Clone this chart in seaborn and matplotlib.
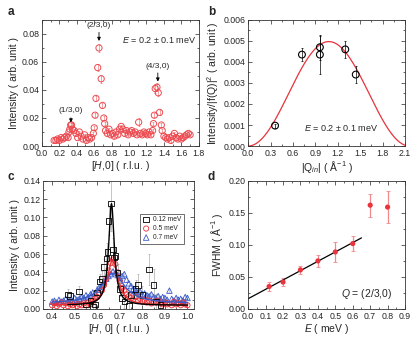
import numpy as np
import pandas as pd
import matplotlib
matplotlib.use('Agg')
import matplotlib.pyplot as plt
import seaborn as sns
from matplotlib.ticker import MultipleLocator

# ================= 数据区 =================
# (a) E = 0.2 meV 沿 [H,0] 扫描
a_h = [0.14, 0.16, 0.18, 0.20, 0.22, 0.24, 0.26, 0.28, 0.30, 0.31, 0.32, 0.33, 0.34, 0.35,
       0.37, 0.39, 0.41, 0.43, 0.45, 0.47, 0.49, 0.51, 0.53, 0.55, 0.57, 0.59, 0.60, 0.61,
       0.62, 0.64, 0.655, 0.68, 0.695, 0.71, 0.72, 0.73, 0.75, 0.77, 0.79, 0.81, 0.83, 0.85,
       0.87, 0.89, 0.91, 0.93, 0.95, 0.97, 0.99, 1.01, 1.03, 1.05, 1.07, 1.09, 1.11, 1.13,
       1.15, 1.17, 1.19, 1.21, 1.23, 1.25, 1.27, 1.28, 1.29, 1.30, 1.32, 1.335, 1.35, 1.37,
       1.38, 1.40, 1.42, 1.44, 1.46, 1.48, 1.50, 1.52, 1.54, 1.56, 1.58, 1.60, 1.62, 1.64,
       1.66, 1.68, 1.70]
a_int = [0.004, 0.004, 0.005, 0.004, 0.006, 0.005, 0.006, 0.007, 0.006, 0.010, 0.012, 0.015,
         0.015, 0.012, 0.011, 0.009, 0.006, 0.010, 0.007, 0.005, 0.008, 0.004, 0.006, 0.005,
         0.006, 0.009, 0.013, 0.022, 0.034, 0.056, 0.070, 0.048, 0.029, 0.020, 0.016, 0.011,
         0.009, 0.012, 0.008, 0.009, 0.007, 0.010, 0.008, 0.012, 0.014, 0.012, 0.009, 0.011,
         0.008, 0.010, 0.011, 0.009, 0.010, 0.008, 0.017, 0.009, 0.008, 0.010, 0.009, 0.008,
         0.010, 0.008, 0.011, 0.016, 0.022, 0.041, 0.042, 0.038, 0.024, 0.015, 0.011, 0.007,
         0.006, 0.005, 0.006, 0.004, 0.007, 0.009, 0.006, 0.005, 0.007, 0.005, 0.006, 0.007,
         0.008, 0.009, 0.008]
a_err = [0.0008, 0.0008, 0.0008, 0.0008, 0.0008, 0.0008, 0.0008, 0.0008, 0.0008, 0.001, 0.001, 0.0012,
         0.0012, 0.001, 0.001, 0.001, 0.0008, 0.001, 0.0008, 0.0008, 0.0008, 0.0008, 0.0008, 0.0008,
         0.0008, 0.001, 0.001, 0.0015, 0.002, 0.0025, 0.003, 0.003, 0.002, 0.0015, 0.0012, 0.001,
         0.001, 0.001, 0.001, 0.001, 0.001, 0.001, 0.001, 0.0012, 0.0012, 0.001, 0.001, 0.001,
         0.001, 0.001, 0.001, 0.001, 0.001, 0.001, 0.003, 0.001, 0.001, 0.001, 0.001, 0.001,
         0.001, 0.001, 0.001, 0.0012, 0.0015, 0.003, 0.003, 0.0025, 0.002, 0.0012, 0.001, 0.0008,
         0.0008, 0.0008, 0.0008, 0.0008, 0.0008, 0.0008, 0.0008, 0.0008, 0.0008, 0.0008, 0.0008, 0.0008,
         0.0008, 0.0008, 0.0008]

# (b) Intensity/|f(Q)|^2 vs |Q_in|
b_q = [0.36, 0.72, 0.96, 0.96, 1.30, 1.44]
b_int = [0.00097, 0.00435, 0.0047, 0.00435, 0.0046, 0.0034]
b_err = [0.0001, 0.0003, 0.0006, 0.0009, 0.0004, 0.0004]
b_fit_amp = 0.00497   # sin^2 拟合参数
b_fit_period = 2.16

# (c) 不同能量下的 [H,0] 扫描
c_black_h = [0.47, 0.48, 0.52, 0.55, 0.57, 0.58, 0.59, 0.60, 0.61, 0.62, 0.63, 0.64, 0.645,
             0.65, 0.66, 0.67, 0.675, 0.68, 0.69, 0.70, 0.71, 0.72, 0.74, 0.75, 0.77, 0.78,
             0.80, 0.83, 0.85, 0.86, 0.88]
c_black_int = [0.016, 0.014, 0.019, 0.005, 0.009, 0.002, 0.005, 0.018, 0.030, 0.033, 0.046,
               0.055, 0.062, 0.096, 0.115, 0.065, 0.056, 0.058, 0.040, 0.022, 0.012, 0.008,
               0.003, 0.015, 0.022, 0.026, 0.015, 0.043, 0.026, 0.008, 0.004]
c_black_err = [0.006, 0.005, 0.006, 0.005, 0.006, 0.006, 0.006, 0.007, 0.008, 0.008, 0.009,
               0.010, 0.010, 0.015, 0.030, 0.012, 0.010, 0.010, 0.009, 0.008, 0.007, 0.007,
               0.006, 0.008, 0.010, 0.012, 0.010, 0.017, 0.018, 0.008, 0.006]

c_h = [0.40, 0.41, 0.42, 0.43, 0.44, 0.45, 0.46, 0.47, 0.48, 0.49, 0.50, 0.51, 0.52, 0.53,
       0.54, 0.55, 0.56, 0.57, 0.58, 0.59, 0.60, 0.61, 0.62, 0.63, 0.64, 0.65, 0.66, 0.67,
       0.68, 0.69, 0.70, 0.71, 0.72, 0.73, 0.74, 0.75, 0.76, 0.77, 0.78, 0.79, 0.80, 0.81,
       0.82, 0.83, 0.84, 0.85, 0.86, 0.87, 0.88, 0.89, 0.90, 0.91, 0.92, 0.93, 0.94, 0.95,
       0.96, 0.97, 0.98, 0.99, 1.00]
c_red_int = [0.004, 0.006, 0.003, 0.005, 0.007, 0.004, 0.006, 0.003, 0.005, 0.004, 0.006,
             0.003, 0.005, 0.004, 0.006, 0.004, 0.007, 0.005, 0.009, 0.011, 0.013, 0.017,
             0.020, 0.026, 0.033, 0.042, 0.050, 0.054, 0.049, 0.040, 0.030, 0.023, 0.020,
             0.016, 0.014, 0.012, 0.010, 0.013, 0.009, 0.011, 0.008, 0.010, 0.007, 0.009,
             0.006, 0.008, 0.007, 0.009, 0.006, 0.005, 0.007, 0.005, 0.006, 0.004, 0.008,
             0.005, 0.006, 0.004, 0.007, 0.005, 0.004]
c_blue_int = [0.008, 0.009, 0.007, 0.010, 0.008, 0.009, 0.011, 0.008, 0.010, 0.009, 0.012,
              0.010, 0.011, 0.013, 0.012, 0.015, 0.013, 0.016, 0.018, 0.017, 0.021, 0.024,
              0.026, 0.030, 0.033, 0.036, 0.038, 0.041, 0.039, 0.037, 0.034, 0.036, 0.038,
              0.032, 0.028, 0.025, 0.022, 0.020, 0.018, 0.019, 0.016, 0.017, 0.015, 0.014,
              0.016, 0.013, 0.012, 0.014, 0.011, 0.013, 0.012, 0.010, 0.020, 0.011, 0.009,
              0.012, 0.010, 0.011, 0.009, 0.013, 0.012]
# Lorentzian 拟合参数: (中心, 振幅, 半宽, 背底, 起点)
c_fits = {
    '0.12 meV': (0.663, 0.111, 0.015, 0.004, 0.47),
    '0.5 meV': (0.668, 0.050, 0.028, 0.004, 0.40),
    '0.7 meV': (0.670, 0.033, 0.060, 0.006, 0.40),
}

# (d) FWHM vs E
d_e = [0.12, 0.2, 0.3, 0.4, 0.5, 0.6, 0.7, 0.8]
d_fwhm = [0.035, 0.042, 0.061, 0.075, 0.089, 0.102, 0.162, 0.159]
d_err = [0.007, 0.006, 0.006, 0.009, 0.015, 0.012, 0.018, 0.025]
d_fit_slope = 0.146
d_fit_icpt = 0.016
d_fit_end = 0.65

# ================= 风格 =================
sns.set_theme(style='ticks')
plt.rcParams['font.family'] = ['Liberation Sans', 'DejaVu Sans']
plt.rcParams['mathtext.fontset'] = 'custom'
plt.rcParams['mathtext.rm'] = 'Liberation Sans'
plt.rcParams['mathtext.it'] = 'Liberation Sans:italic'
plt.rcParams['axes.linewidth'] = 0.6
plt.rcParams['axes.edgecolor'] = '#333333'
plt.rcParams['xtick.direction'] = 'in'
plt.rcParams['ytick.direction'] = 'in'
plt.rcParams['xtick.top'] = True
plt.rcParams['ytick.right'] = True
plt.rcParams['xtick.major.size'] = 3
plt.rcParams['ytick.major.size'] = 3
plt.rcParams['xtick.minor.size'] = 1.6
plt.rcParams['ytick.minor.size'] = 1.6
plt.rcParams['xtick.major.width'] = 0.5
plt.rcParams['ytick.major.width'] = 0.5
plt.rcParams['xtick.minor.width'] = 0.5
plt.rcParams['ytick.minor.width'] = 0.5
plt.rcParams['xtick.labelsize'] = 6.3
plt.rcParams['ytick.labelsize'] = 6.3
plt.rcParams['axes.labelsize'] = 7.5
plt.rcParams['xtick.major.pad'] = 2
plt.rcParams['ytick.major.pad'] = 2

RED = '#ec4a50'
fig = plt.figure(figsize=(4.15, 3.38), dpi=100)
ax_a = fig.add_axes([0.101, 0.568, 0.378, 0.373])
ax_b = fig.add_axes([0.598, 0.568, 0.378, 0.373])
ax_c = fig.add_axes([0.104, 0.086, 0.364, 0.379])
ax_d = fig.add_axes([0.598, 0.086, 0.378, 0.379])


def setup(ax, xlim, ylim, xmaj, xmin, ymaj, ymin, xfmt, yfmt):
    ax.set_xlim(*xlim)
    ax.set_ylim(*ylim)
    ax.xaxis.set_major_locator(MultipleLocator(xmaj))
    ax.xaxis.set_minor_locator(MultipleLocator(xmin))
    ax.yaxis.set_major_locator(MultipleLocator(ymaj))
    ax.yaxis.set_minor_locator(MultipleLocator(ymin))
    ax.xaxis.set_major_formatter(xfmt)
    ax.yaxis.set_major_formatter(yfmt)
    ax.tick_params(which='both', top=True, right=True)


# ---- (a) ----
ax_a.errorbar(a_h, a_int, yerr=a_err, fmt='none', ecolor=RED, elinewidth=0.5, capsize=0.8,
              capthick=0.5, alpha=0.7)
sns.scatterplot(x=a_h, y=a_int, ax=ax_a, marker='o', s=20, facecolor='none',
                edgecolor=RED, linewidth=0.7)
setup(ax_a, (0, 1.8), (0, 0.09), 0.2, 0.1, 0.02, 0.01, '{x:.1f}', '{x:.2f}')
ax_a.set_xlabel(r'[$\mathit{H}$,0] ( r.l.u. )', labelpad=1)
ax_a.set_ylabel('Intensity ( arb. unit )', labelpad=2)
for lab, xx, yt, ya in [('(1/3,0)', 0.333, 0.0225, 0.0168),
                        ('(2/3,0)', 0.655, 0.0835, 0.075),
                        ('(4/3,0)', 1.33, 0.0545, 0.046)]:
    ax_a.annotate(lab, xy=(xx, ya), xytext=(xx, yt), ha='center', va='bottom', fontsize=6,
                  arrowprops=dict(arrowstyle='-|>', lw=0.6, color='black', mutation_scale=5,
                                  shrinkA=0, shrinkB=0))
ax_a.text(1.35, 0.0755, r'$\mathit{E}$ = 0.2 ± 0.1 meV', ha='center', va='center', fontsize=6.5)

# ---- (b) ----
q_line = np.linspace(0, 2.1, 200)
b_line = b_fit_amp * np.sin(np.pi * q_line / b_fit_period) ** 2
sns.lineplot(x=q_line, y=b_line, ax=ax_b, color='#e8333b', lw=0.9)
ax_b.errorbar(b_q, b_int, yerr=b_err, fmt='none', ecolor='black', elinewidth=0.5, capsize=1,
              capthick=0.5)
sns.scatterplot(x=b_q, y=b_int, ax=ax_b, marker='o', s=24, facecolor='none',
                edgecolor='black', linewidth=0.8, zorder=3)
setup(ax_b, (0, 2.1), (0, 0.006), 0.3, 0.15, 0.001, 0.0005, '{x:.1f}', '{x:.3f}')
ax_b.set_xlabel(r'|Q$_{\mathit{in}}$| ( Å$^{-1}$ )', labelpad=1)
ax_b.set_ylabel('Intensity/|f(Q)|$^2$ ( arb. unit )', labelpad=2)
ax_b.text(1.24, 0.00088, r'$\mathit{E}$ = 0.2 ± 0.1 meV', ha='center', va='center', fontsize=6.5)

# ---- (c) ----
c_styles = {
    '0.12 meV': ('black', 's', '#999999'),
    '0.5 meV': ('#ec2f37', 'o', '#f2a0a3'),
    '0.7 meV': ('#3a5bc7', '^', '#9fb0e3'),
}
ax_c.errorbar(c_h, c_blue_int, yerr=0.002, fmt='none', ecolor=c_styles['0.7 meV'][2],
              elinewidth=0.4, capsize=0.6, capthick=0.4)
ax_c.errorbar(c_h, c_red_int, yerr=0.002, fmt='none', ecolor=c_styles['0.5 meV'][2],
              elinewidth=0.4, capsize=0.6, capthick=0.4)
ax_c.errorbar(c_black_h, c_black_int, yerr=c_black_err, fmt='none',
              ecolor=c_styles['0.12 meV'][2], elinewidth=0.4, capsize=0.8, capthick=0.4)
sns.scatterplot(x=c_h, y=c_blue_int, ax=ax_c, marker='^', s=16, facecolor='none',
                edgecolor=c_styles['0.7 meV'][0], linewidth=0.6, label='0.7 meV', zorder=3)
sns.scatterplot(x=c_h, y=c_red_int, ax=ax_c, marker='o', s=14, facecolor='none',
                edgecolor=c_styles['0.5 meV'][0], linewidth=0.6, label='0.5 meV', zorder=3)
sns.scatterplot(x=c_black_h, y=c_black_int, ax=ax_c, marker='s', s=16, facecolor='none',
                edgecolor='black', linewidth=0.6, label='0.12 meV', zorder=4)
for key in ['0.7 meV', '0.5 meV', '0.12 meV']:
    x0, amp, hw, bg, start = c_fits[key]
    hh = np.linspace(start, 1.0, 300)
    yy = bg + amp / (1 + ((hh - x0) / hw) ** 2)
    sns.lineplot(x=hh, y=yy, ax=ax_c, color=c_styles[key][0], lw=1.0, zorder=5)
setup(ax_c, (0.36, 1.03), (0, 0.14), 0.1, 0.05, 0.02, 0.01, '{x:.1f}', '{x:.2f}')
ax_c.set_xlabel(r'[$\mathit{H}$, 0] ( r.l.u. )', labelpad=1)
ax_c.set_ylabel('Intensity ( arb. unit )', labelpad=2)
handles, labels = ax_c.get_legend_handles_labels()
order = [labels.index(k) for k in ['0.12 meV', '0.5 meV', '0.7 meV']]
leg = ax_c.legend([handles[i] for i in order], [labels[i] for i in order],
                  loc='upper left', bbox_to_anchor=(0.62, 0.77), fontsize=4.8, frameon=True,
                  fancybox=False, edgecolor='black', handletextpad=0.5, borderpad=0.4,
                  labelspacing=0.3, handlelength=1.0)
leg.get_frame().set_linewidth(0.5)

# ---- (d) ----
ax_d.errorbar(d_e, d_fwhm, yerr=d_err, fmt='none', ecolor='#f08a8e', elinewidth=0.9,
              capsize=1.5, capthick=0.6)
e_line = np.array([0.0, d_fit_end])
sns.lineplot(x=e_line, y=d_fit_icpt + d_fit_slope * e_line, ax=ax_d, color='black', lw=0.9)
sns.scatterplot(x=d_e, y=d_fwhm, ax=ax_d, marker='o', s=14, color='#e8353d',
                edgecolor='none', zorder=4)
setup(ax_d, (0, 0.9), (0, 0.2), 0.1, 0.05, 0.05, 0.025, '{x:.1f}', '{x:.2f}')
ax_d.set_xlabel(r'$\mathit{E}$ ( meV )', labelpad=1)
ax_d.set_ylabel(r'FWHM ( Å$^{-1}$ )', labelpad=2)
ax_d.text(0.68, 0.024, r'$\mathit{Q}$ = (2/3,0)', ha='center', va='center', fontsize=7.5)

for lab, x, y in [('a', 0.019, 0.965), ('b', 0.501, 0.965), ('c', 0.019, 0.475), ('d', 0.501, 0.475)]:
    fig.text(x, y, lab, fontsize=8.5, fontweight='bold', ha='left', va='center')

fig.savefig('out.png', dpi=100)
